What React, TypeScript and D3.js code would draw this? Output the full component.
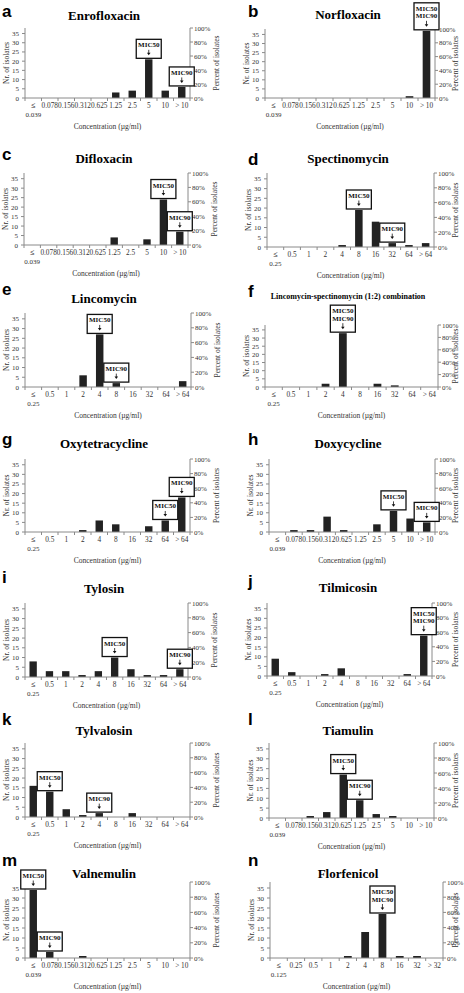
import React from "react";
import * as d3 from "d3";

// Categories (MIC concentrations, µg/ml)
const catsLow = ["≤0.039", "0.078", "0.156", "0.312", "0.625", "1.25", "2.5", "5", "10", ">10"];
const catsMid = ["≤0.25", "0.5", "1", "2", "4", "8", "16", "32", "64", ">64"];
const catsFlor = ["≤0.125", "0.25", "0.5", "1", "2", "4", "8", "16", "32", ">32"];

// Number of isolates per concentration
const enrofloxacin = [0, 0, 0, 0, 0, 3, 4, 21, 4, 6];
const norfloxacin = [0, 0, 0, 0, 0, 0, 0, 0, 1, 37];
const difloxacin = [0, 0, 0, 0, 0, 4, 0, 3, 24, 7];
const spectinomycin = [0, 0, 0, 0, 1, 19, 13, 2, 1, 2];
const lincomycin = [0, 0, 0, 6, 27, 2, 0, 0, 0, 3];
const linSpec = [0, 0, 0, 2, 33, 0, 2, 1, 0, 0];
const oxytetracycline = [0, 0, 0, 1, 6, 4, 0, 3, 6, 18];
const doxycycline = [0, 1, 1, 8, 1, 0, 4, 11, 7, 5];
const tylosin = [8, 3, 3, 1, 3, 10, 4, 1, 1, 4];
const tilmicosin = [9, 2, 0, 1, 4, 0, 0, 0, 1, 21];
const tylvalosin = [16, 13, 4, 1, 2, 0, 2, 0, 0, 0];
const tiamulin = [0, 0, 1, 3, 22, 9, 2, 1, 0, 0];
const valnemulin = [34, 3, 0, 1, 0, 0, 0, 0, 0, 0];
const florfenicol = [0, 0, 0, 0, 1, 13, 22, 1, 1, 0];

const totalIsolates = 38;
const leftTicks = [0, 5, 10, 15, 20, 25, 30, 35];
const rightTicks = [0, 0.2, 0.4, 0.6, 0.8, 1];

// MIC markers: label lines and concentration
const micEnro = [{ lines: ["MIC50"], cat: "5" }, { lines: ["MIC90"], cat: ">10" }];
const micNor = [{ lines: ["MIC50", "MIC90"], cat: ">10" }];
const micDif = [{ lines: ["MIC50"], cat: "10" }, { lines: ["MIC90"], cat: ">10" }];
const micSpec = [{ lines: ["MIC50"], cat: "8" }, { lines: ["MIC90"], cat: "32" }];
const micLin = [{ lines: ["MIC50"], cat: "4" }, { lines: ["MIC90"], cat: "8" }];
const micLinSpec = [{ lines: ["MIC50", "MIC90"], cat: "4" }];
const micOxy = [{ lines: ["MIC50"], cat: "64" }, { lines: ["MIC90"], cat: ">64" }];
const micDoxy = [{ lines: ["MIC50"], cat: "5" }, { lines: ["MIC90"], cat: ">10" }];
const micTylo = [{ lines: ["MIC50"], cat: "8" }, { lines: ["MIC90"], cat: ">64" }];
const micTilm = [{ lines: ["MIC50", "MIC90"], cat: ">64" }];
const micTylv = [{ lines: ["MIC50"], cat: "0.5" }, { lines: ["MIC90"], cat: "4" }];
const micTiam = [{ lines: ["MIC50"], cat: "0.625" }, { lines: ["MIC90"], cat: "1.25" }];
const micValn = [{ lines: ["MIC50"], cat: "≤0.039" }, { lines: ["MIC90"], cat: "0.078" }];
const micFlor = [{ lines: ["MIC50", "MIC90"], cat: "8" }];

const panelLetters = ["a", "b", "c", "d", "e", "f", "g", "h", "i", "j", "k", "l", "m", "n"];
const panelTitles = [
  "Enrofloxacin", "Norfloxacin", "Difloxacin", "Spectinomycin", "Lincomycin",
  "Lincomycin-spectinomycin (1:2) combination", "Oxytetracycline", "Doxycycline",
  "Tylosin", "Tilmicosin", "Tylvalosin", "Tiamulin", "Valnemulin", "Florfenicol",
];
const panelCats = [catsLow, catsLow, catsLow, catsMid, catsMid, catsMid, catsMid, catsLow, catsMid, catsMid, catsMid, catsLow, catsLow, catsFlor];
const panelValues = [enrofloxacin, norfloxacin, difloxacin, spectinomycin, lincomycin, linSpec, oxytetracycline, doxycycline, tylosin, tilmicosin, tylvalosin, tiamulin, valnemulin, florfenicol];
const panelMics = [micEnro, micNor, micDif, micSpec, micLin, micLinSpec, micOxy, micDoxy, micTylo, micTilm, micTylv, micTiam, micValn, micFlor];

// Layout (page coordinates)
const layout = [
  { x0: 25, x1: 190, top: 28, bottom: 98, titleY: 20, letterY: 17 },
  { x0: 265, x1: 435, top: 29, bottom: 98, titleY: 19, letterY: 17 },
  { x0: 24, x1: 188, top: 173, bottom: 245, titleY: 163, letterY: 160 },
  { x0: 267, x1: 434, top: 173, bottom: 247, titleY: 163, letterY: 165 },
  { x0: 25, x1: 191, top: 313, bottom: 387, titleY: 303, letterY: 295 },
  { x0: 265, x1: 438, top: 325, bottom: 387, titleY: 299, letterY: 297 },
  { x0: 25, x1: 190, top: 459, bottom: 532, titleY: 448, letterY: 445 },
  { x0: 269, x1: 435, top: 459, bottom: 532, titleY: 448, letterY: 445 },
  { x0: 25, x1: 188, top: 603, bottom: 677, titleY: 593, letterY: 583 },
  { x0: 267, x1: 432, top: 603, bottom: 676, titleY: 592, letterY: 587 },
  { x0: 25, x1: 190, top: 743, bottom: 817, titleY: 735, letterY: 725 },
  { x0: 269, x1: 434, top: 743, bottom: 818, titleY: 735, letterY: 725 },
  { x0: 25, x1: 190, top: 882, bottom: 958, titleY: 878, letterY: 866 },
  { x0: 270, x1: 443, top: 882, bottom: 958, titleY: 878, letterY: 866 },
];

const serif = "'Liberation Serif', 'Times New Roman', serif";
const sans = "'Liberation Sans', Arial, sans-serif";
const axisColor = "#8a8a8a";
const textColor = "#333";
const barColor = "#222";

function MicBox({ cx, bottomY, lines }: { cx: number; bottomY: number; lines: string[] }) {
  const w = 25;
  const h = lines.length === 1 ? 19 : 27;
  const top = bottomY - h;
  const arrowTop = top + 3 + lines.length * 7.5;
  const arrowBot = bottomY - 3;
  return (
    <g>
      <rect x={cx - w / 2} y={top} width={w} height={h} fill="#fff" stroke="#111" strokeWidth={1.3} />
      {lines.map((l, k) => (
        <text key={k} x={cx} y={top + 8 + k * 7.5} textAnchor="middle" fontFamily={serif} fontWeight="bold" fontSize={7} fill="#111">
          {l}
        </text>
      ))}
      <line x1={cx} x2={cx} y1={arrowTop} y2={arrowBot - 2} stroke="#111" strokeWidth={0.8} />
      <path d={`M${cx - 1.8},${arrowBot - 2.5} L${cx + 1.8},${arrowBot - 2.5} L${cx},${arrowBot} Z`} fill="#111" />
    </g>
  );
}

function Panel({ i }: { i: number }) {
  const L = layout[i];
  const col = i % 2;
  const cats = panelCats[i];
  const vals = panelValues[i];
  const x = d3.scaleBand<string>().domain(cats).range([L.x0, L.x1]);
  const y = d3.scaleLinear().domain([0, totalIsolates]).range([L.bottom, L.top]);
  const y2 = d3.scaleLinear().domain([0, 1]).range([L.bottom, L.top]);
  const step = x.step();
  const bw = step * 0.45;
  const fmt = d3.format(".0%");
  const titleX = col === 0 ? 104 : 348;
  const letterX = col === 0 ? 2 : 248;
  const isLong = panelTitles[i].length > 20;
  const midY = (L.top + L.bottom) / 2;
  const rightLabelX = Math.min(L.x1 + 29, 458);
  return (
    <g>
      <text x={letterX} y={L.letterY} fontFamily={sans} fontWeight="bold" fontSize={17} fill="#000">
        {panelLetters[i]}
      </text>
      <text x={titleX} y={L.titleY} textAnchor="middle" fontFamily={serif} fontWeight="bold" fontSize={isLong ? 8 : 13} fill="#000">
        {panelTitles[i]}
      </text>
      {/* bars */}
      {cats.map((c, k) =>
        vals[k] > 0 ? (
          <rect key={c} x={(x(c) as number) + (step - bw) / 2} y={y(vals[k])} width={bw} height={L.bottom - y(vals[k])} fill={barColor} />
        ) : null
      )}
      {/* x axis */}
      <line x1={L.x0} x2={L.x1} y1={L.bottom} y2={L.bottom} stroke={axisColor} strokeWidth={1} />
      {d3.range(cats.length + 1).map((k) => (
        <line key={k} x1={L.x0 + k * step} x2={L.x0 + k * step} y1={L.bottom} y2={L.bottom + 3} stroke={axisColor} strokeWidth={1} />
      ))}
      {cats.map((c) => {
        const cx = (x(c) as number) + step / 2;
        if (c.startsWith("≤")) {
          return (
            <g key={c}>
              <text x={cx} y={L.bottom + 10} textAnchor="middle" fontFamily={serif} fontWeight="bold" fontSize={8} fill={textColor}>≤</text>
              <text x={cx} y={L.bottom + 19} textAnchor="middle" fontFamily={serif} fontSize={7} fill={textColor}>{c.slice(1)}</text>
            </g>
          );
        }
        const label = c.startsWith(">") ? "> " + c.slice(1) : c;
        return (
          <text key={c} x={cx} y={L.bottom + 10} textAnchor="middle" fontFamily={serif} fontSize={7.3} fill={textColor}>
            {label}
          </text>
        );
      })}
      <text x={(L.x0 + L.x1) / 2} y={L.bottom + 31} textAnchor="middle" fontFamily={serif} fontSize={7.5} fill={textColor}>
        Concentration (µg/ml)
      </text>
      {/* left axis */}
      <line x1={L.x0} x2={L.x0} y1={L.top} y2={L.bottom} stroke={axisColor} strokeWidth={1} />
      {leftTicks.map((t) => (
        <g key={t}>
          <line x1={L.x0 - 3} x2={L.x0} y1={y(t)} y2={y(t)} stroke={axisColor} strokeWidth={1} />
          <text x={L.x0 - 6} y={y(t) + 2.5} textAnchor="end" fontFamily={serif} fontSize={7} fill={textColor}>{t}</text>
        </g>
      ))}
      <text transform={`translate(${L.x0 - 16},${midY}) rotate(-90)`} textAnchor="middle" fontFamily={serif} fontSize={7.5} fill={textColor}>
        Nr. of isolates
      </text>
      {/* right axis */}
      <line x1={L.x1} x2={L.x1} y1={L.top} y2={L.bottom} stroke={axisColor} strokeWidth={1} />
      {rightTicks.map((t) => (
        <g key={t}>
          <line x1={L.x1} x2={L.x1 + 3} y1={y2(t)} y2={y2(t)} stroke={axisColor} strokeWidth={1} />
          <text x={L.x1 + 4} y={y2(t) + 2.5} textAnchor="start" fontFamily={serif} fontSize={7} fill={textColor}>{fmt(t)}</text>
        </g>
      ))}
      <text transform={`translate(${rightLabelX},${midY}) rotate(-90)`} textAnchor="middle" fontFamily={serif} fontSize={7.5} fill={textColor}>
        Percent of isolates
      </text>
      {/* MIC markers */}
      {panelMics[i].map((m, k) => {
        const idx = cats.indexOf(m.cat);
        const cx = (x(m.cat) as number) + step / 2;
        return <MicBox key={k} cx={cx} bottomY={y(vals[idx]) - 1} lines={m.lines} />;
      })}
    </g>
  );
}

export default function App() {
  return (
    <svg width={464} height={993} style={{ position: "absolute", left: 0, top: 0, background: "#fff" }}>
      <rect width={464} height={993} fill="#fff" />
      {panelTitles.map((_, i) => (
        <Panel key={i} i={i} />
      ))}
    </svg>
  );
}
